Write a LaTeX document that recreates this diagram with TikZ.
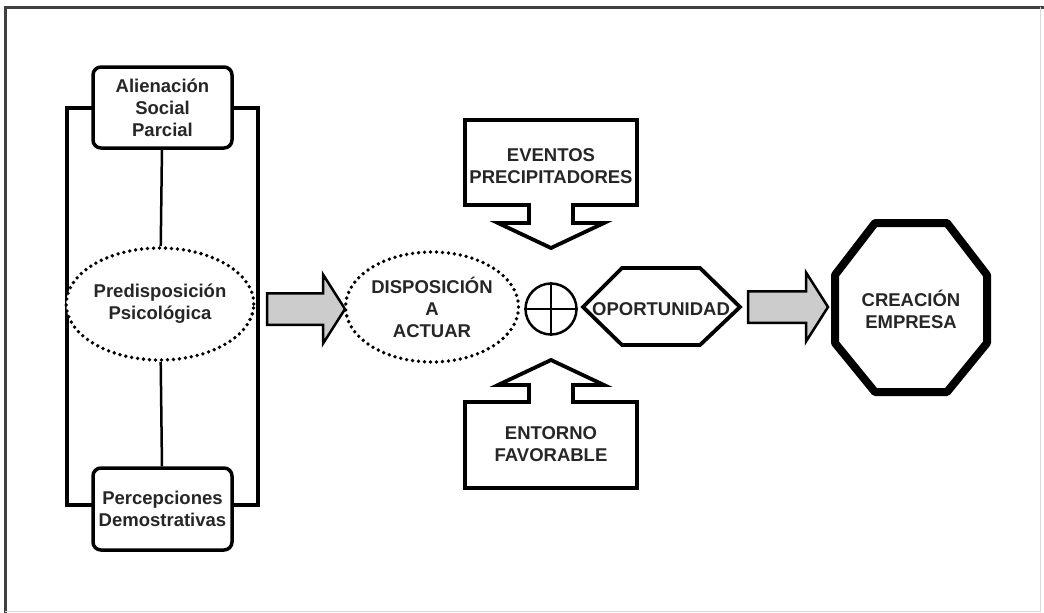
\documentclass[tikz,border=0pt]{standalone}
\usepackage{fontspec}
\setmainfont{Liberation Sans}
\usetikzlibrary{shapes.geometric,shapes.arrows}

\begin{document}
\begin{tikzpicture}[
        x=1pt, y=-1pt,
        every node/.style={font=\bfseries\fontsize{18.5}{22}\selectfont, text=black!85},
        caja/.style={draw, line width=3.5pt, rounded corners=8pt, fill=white, minimum width=139pt, minimum height=81pt, align=center, inner sep=0pt},
        burbuja/.style={ellipse, draw, line width=3.8pt, dash pattern=on 0pt off 6pt, line cap=round, fill=white, align=center, inner sep=0pt},
        flecha/.style={single arrow, draw, line width=2.5pt, fill=gray!40, minimum width=66pt, single arrow head extend=18.5pt, single arrow tip angle=115, inner xsep=0pt, inner ysep=14.5pt},
        marco/.style={line width=3.8pt, fill=white},
        texto/.style={align=center, inner sep=0pt}
    ]
        \useasboundingbox (0,0) rectangle (1044,613);

        % Frame
        \draw[line width=3pt, black!75] (5,613) -- (5,7) -- (1044,7);
        \draw[line width=1pt, black!15] (1040,7) -- (1040,611) -- (5,611);

        % Left block
        \draw[line width=4.5pt] (67,108) rectangle (258,505);
        \node[caja] (alien) at (162.5,107.5) {Alienación\\Social\\Parcial};
        \node[burbuja, minimum width=175pt, minimum height=112pt] (pre) at (160,304) {Predisposición\\Psicológica};
        \node[caja, minimum height=82pt] (perc) at (162.5,509) {Percepciones\\Demostrativas};
        \draw[line width=2.5pt] (alien) -- (pre);
        \draw[line width=2.5pt] (pre) -- (perc);

        % Middle
        \node[flecha, minimum height=78pt] (flecha1) at (301,309) {};
        \node[burbuja, minimum width=173pt, minimum height=110pt] (disp) at (432,307) {DISPOSICIÓN\\A\\ACTUAR};
        \node[circle, draw, line width=2.5pt, minimum size=51pt, inner sep=0pt] (suma) at (551,309) {};
        \draw[line width=2.5pt] (suma.north) -- (suma.south);
        \draw[line width=2.5pt] (suma.west) -- (suma.east);

        % Callouts
        \draw[marco] (465,120) -- (637,120) -- (637,205) -- (573,205) -- (573,223) -- (604,223) -- (551,248) -- (498,223) -- (529,223) -- (529,205) -- (465,205) -- cycle;
        \node[texto] (eventos) at (551,166) {EVENTOS\\PRECIPITADORES};
        \draw[marco] (465,488) -- (637,488) -- (637,402) -- (573,402) -- (573,385) -- (604,385) -- (551,360) -- (498,385) -- (529,385) -- (529,402) -- (465,402) -- cycle;
        \node[texto] (entorno) at (551,444) {ENTORNO\\FAVORABLE};

        % Right
        \draw[marco] (583,307) -- (622,268) -- (700,268) -- (740,307) -- (700,345) -- (622,345) -- cycle;
        \node[texto] (oport) at (661,309) {OPORTUNIDAD};
        \node[flecha, minimum height=80pt] (flecha2) at (783,307) {};
        \draw[line width=8pt, line join=round] (875,223) -- (947,223) -- (987,275) -- (987,343) -- (947,392) -- (875,392) -- (835,343) -- (835,275) -- cycle;
        \node[texto] (crea) at (911,309) {CREACIÓN\\EMPRESA};
    \end{tikzpicture}
\end{document}
